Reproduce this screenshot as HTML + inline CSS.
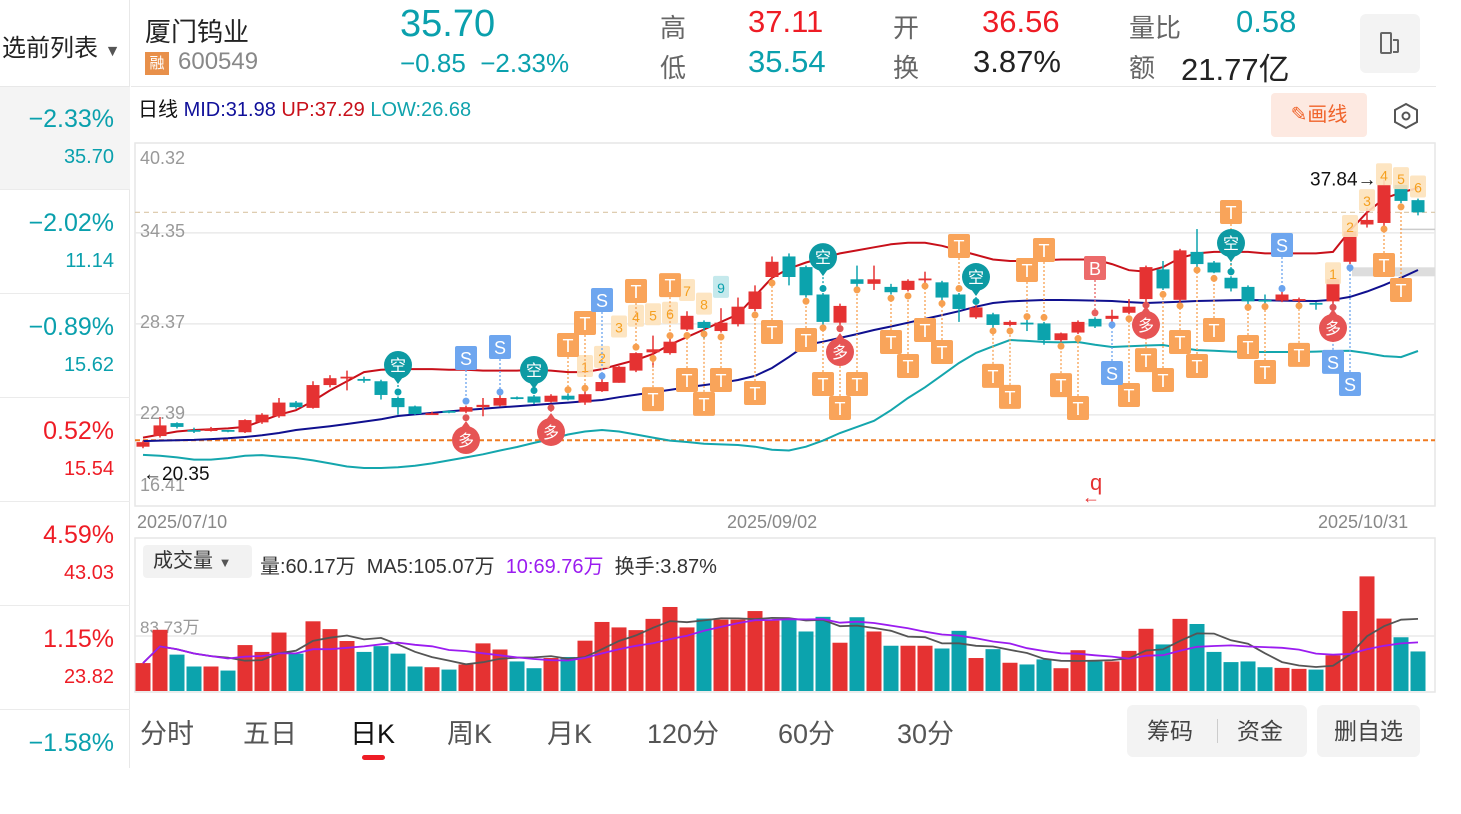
<!DOCTYPE html>
<html><head><meta charset="utf-8">
<style>
*{margin:0;padding:0;box-sizing:border-box}
body{width:1461px;height:768px;overflow:hidden;background:#fff;font-family:"Liberation Sans","Noto Sans CJK SC",sans-serif;position:relative}
.a{position:absolute;white-space:nowrap}
.teal{color:#0aa0ad}.red{color:#ee1c25}.gray{color:#666}
</style></head><body>
<!-- sidebar -->
<div class="a" style="left:0;top:0;width:130px;height:768px;border-right:1px solid #e8e8e8;overflow:hidden">
<div class="a" style="left:-22px;top:28px;font-size:24px;color:#222">自选前列表 <span style="font-size:16px;color:#555">▼</span></div>
</div>
<div class="a" style="left:0;top:86px;width:130px;height:1px;background:#e8e8e8"></div>
<div id="side"></div>
<!-- header -->
<div class="a" style="left:145px;top:12px;font-size:26px;color:#222">厦门钨业</div>
<div class="a" style="left:145px;top:52px;width:24px;height:23px;background:#e8904a;color:#fff;font-size:15px;text-align:center;line-height:23px">融</div>
<div class="a" style="left:178px;top:48px;font-size:24px;color:#888">600549</div>
<div class="a teal" style="left:400px;top:3px;font-size:38px">35.70</div>
<div class="a teal" style="left:400px;top:48px;font-size:26px">−0.85 &nbsp;−2.33%</div>
<div class="a gray" style="left:660px;top:8px;font-size:26px">高</div>
<div class="a red" style="left:748px;top:4px;font-size:31px">37.11</div>
<div class="a gray" style="left:660px;top:48px;font-size:26px">低</div>
<div class="a teal" style="left:748px;top:44px;font-size:31px">35.54</div>
<div class="a gray" style="left:893px;top:8px;font-size:26px">开</div>
<div class="a red" style="left:982px;top:4px;font-size:31px">36.56</div>
<div class="a gray" style="left:893px;top:48px;font-size:26px">换</div>
<div class="a" style="left:973px;top:44px;font-size:31px;color:#222">3.87%</div>
<div class="a gray" style="left:1129px;top:8px;font-size:26px">量比</div>
<div class="a teal" style="left:1236px;top:4px;font-size:31px">0.58</div>
<div class="a gray" style="left:1129px;top:48px;font-size:26px">额</div>
<div class="a" style="left:1181px;top:44px;font-size:31px;color:#222">21.77亿</div>
<div class="a" style="left:1360px;top:14px;width:60px;height:59px;background:#f3f3f3;border-radius:6px">
<div style="position:absolute;left:20px;top:18px;width:12px;height:22px;border:2px solid #666;border-radius:2px"></div>
<div style="position:absolute;left:33px;top:25px;width:6px;height:14px;border:2px solid #666;border-left:none;border-radius:0 2px 2px 0"></div></div>
<div class="a" style="left:131px;top:86px;width:1305px;height:1px;background:#e8e8e8"></div>
<div class="a" style="left:138px;top:93px;font-size:20px"><span style="color:#111">日线</span> <span style="color:#10109a">MID:31.98</span> <span style="color:#c8101a">UP:37.29</span> <span style="color:#11a3ad">LOW:26.68</span></div>
<div class="a" style="left:1271px;top:93px;width:96px;height:44px;background:#fde9e1;border-radius:4px;color:#f0632a;font-size:20px;line-height:44px;text-align:center">✎画线</div>
<svg class="a" style="left:1392px;top:102px" width="28" height="28"><polygon points="14,2 25,8 25,20 14,26 3,20 3,8" fill="none" stroke="#555" stroke-width="2"/><circle cx="14" cy="14" r="3.5" fill="none" stroke="#555" stroke-width="2"/></svg>

<svg id="chart" class="a" style="left:0;top:0" width="1461" height="768"></svg>

<!-- volume header -->
<div class="a" style="left:143px;top:545px;width:109px;height:33px;background:#f2f2f2;border-radius:4px;font-size:20px;line-height:33px;padding-left:10px;color:#333">成交量 <span style="font-size:13px;color:#555">▼</span></div>
<div class="a" style="left:260px;top:550px;font-size:20px;color:#333">量:60.17万 &nbsp;MA5:105.07万 &nbsp;<span style="color:#9b1cf0">10:69.76万</span> &nbsp;换手:3.87%</div>
<!-- tabs -->
<div id="tabs"></div>
<div class="a" style="left:362px;top:755px;width:23px;height:5px;background:#ee1c25;border-radius:3px"></div>
<div class="a" style="left:1127px;top:705px;width:180px;height:52px;background:#f3f3f3;border-radius:6px;font-size:23px;color:#444;line-height:52px"><span style="position:absolute;left:20px">筹码</span><span style="position:absolute;left:90px;top:14px;width:1px;height:24px;background:#ccc"></span><span style="position:absolute;left:110px">资金</span></div>
<div class="a" style="left:1317px;top:705px;width:103px;height:52px;background:#f3f3f3;border-radius:6px;font-size:23px;color:#444;line-height:52px;text-align:center">删自选</div>

<script>
// ---- data ----
const sidePct=["−2.33%","−2.02%","−0.89%","0.52%","4.59%","1.15%","−1.58%"];
const sidePrice=["35.70","11.14","15.62","15.54","43.03","23.82",""];
const tabs=["分时","五日","日K","周K","月K","120分","60分","30分"];
const priceTicks=[40.32,34.35,28.37,22.39,16.41];
const dateLabels=["2025/07/10","2025/09/02","2025/10/31"];
const O=[20.3,21.0,21.85,21.4,21.35,21.4,21.25,21.9,22.3,23.2,22.85,24.35,24.8,24.75,24.6,23.5,22.95,22.45,22.65,22.6,22.9,23.0,23.55,23.6,23.25,23.65,23.2,23.95,24.5,25.3,26.5,26.45,28.0,28.5,27.9,28.35,29.35,31.45,32.8,32.1,30.3,28.45,31.3,31.0,30.8,30.6,31.25,31.1,30.3,28.8,29.0,28.3,28.45,28.4,27.3,27.8,28.7,28.7,29.1,30.0,31.95,29.95,33.1,32.4,31.4,30.8,29.95,29.9,29.95,29.75,29.85,32.45,34.9,35.0,37.5,36.5];
const C=[20.6,21.7,21.6,21.35,21.45,21.3,22.05,22.4,23.2,22.9,24.35,24.8,24.9,24.65,23.7,22.9,22.45,22.5,22.55,22.9,23.05,23.5,23.5,23.2,23.65,23.4,23.75,24.55,25.55,26.45,26.7,27.2,28.9,28.1,28.45,29.5,30.5,32.45,31.45,30.25,28.5,29.55,31.0,31.3,30.45,31.2,31.35,30.1,29.35,29.45,28.3,28.5,28.4,27.3,27.75,28.5,28.2,28.9,29.5,32.1,30.7,33.2,32.3,31.75,30.7,29.85,29.9,30.3,30.0,29.7,31.3,34.45,35.2,37.5,36.45,35.7];
const H=[20.7,22.25,21.9,21.55,21.6,21.4,22.1,22.5,23.5,23.3,24.6,25.0,25.3,24.9,24.7,23.6,23.0,22.6,22.7,23.0,23.5,23.9,23.6,23.7,23.75,23.8,24.0,24.9,25.6,26.5,27.6,27.6,29.2,28.6,29.4,30.1,30.9,32.8,33.0,32.2,30.4,29.7,32.2,32.2,31.0,31.3,31.8,31.2,30.4,29.6,29.1,28.6,28.9,28.5,27.8,28.6,28.8,29.3,30.0,32.2,32.5,33.3,34.6,32.5,31.5,30.9,30.3,30.5,30.1,29.8,31.4,34.5,36.0,37.84,37.55,36.6];
const L=[20.2,20.9,21.5,21.2,21.3,21.25,21.2,21.8,22.2,22.8,22.8,24.2,24.0,24.5,23.4,22.4,22.4,22.4,22.5,22.5,22.3,22.95,23.4,23.1,23.2,23.35,23.05,23.9,24.5,25.2,25.5,26.35,27.9,27.4,27.8,28.2,29.2,31.3,30.9,30.1,28.2,28.3,30.7,30.6,30.3,30.5,30.8,29.9,28.5,28.7,28.1,28.2,27.9,27.0,27.2,27.7,28.1,28.5,29.0,29.8,30.6,29.8,31.9,31.7,30.5,29.6,29.3,29.8,29.5,29.3,29.6,32.3,34.7,34.8,36.3,35.5];
const UP=[20.9,21.1,21.3,21.4,21.45,21.5,21.6,22.0,22.4,22.7,23.3,24.0,24.6,25.2,25.35,25.4,25.4,25.4,25.35,25.35,25.3,25.3,25.3,25.35,25.3,25.2,25.2,25.4,25.7,26.0,26.4,27.0,27.5,28.0,28.5,29.0,30.2,31.4,32.0,32.4,32.7,33.0,33.2,33.4,33.6,33.7,33.7,33.5,33.2,32.9,32.6,32.5,32.5,32.55,32.6,32.6,32.6,32.3,31.9,31.8,32.1,32.7,33.0,33.1,33.1,33.1,33.0,33.0,33.0,33.0,33.1,34.5,35.7,36.6,37.0,37.3];
const MID=[20.67,20.7,20.72,20.75,20.8,20.85,20.94,21.05,21.2,21.4,21.52,21.65,21.79,21.95,22.1,22.32,22.42,22.52,22.62,22.71,22.8,22.88,22.96,23.04,23.12,23.2,23.28,23.37,23.55,23.72,23.88,24.03,24.2,24.35,24.5,24.68,24.95,25.47,26.2,26.98,27.2,27.45,27.7,27.97,28.2,28.45,28.7,28.95,29.2,29.5,29.74,29.85,29.9,29.94,29.94,29.92,29.9,29.87,29.8,29.74,29.78,29.82,29.87,29.9,29.92,29.94,29.92,29.9,29.88,29.87,29.95,30.14,30.5,30.92,31.4,31.91];
const LOW=[19.76,19.7,19.6,19.45,19.45,19.55,19.7,19.75,19.65,19.56,19.4,19.2,19.0,18.9,18.9,18.95,19.05,19.2,19.4,19.6,19.8,20.05,20.28,20.55,20.8,21.1,21.3,21.4,21.3,21.1,20.9,20.7,20.61,20.5,20.45,20.41,20.3,20.1,20.05,20.3,20.7,21.2,21.6,22.0,22.7,23.5,24.2,25.0,25.8,26.46,26.9,27.31,27.25,27.18,27.15,27.18,27.0,26.85,26.9,26.95,26.98,26.8,26.65,26.6,26.55,26.52,26.52,26.52,26.52,26.55,26.59,26.6,26.45,26.25,26.19,26.59];
const VOL=[42.5,93.2,55.4,37.3,37.3,31.1,69.9,59.5,89.0,56.9,106.1,94.2,76.1,59.5,68.3,56.9,37.3,36.2,32.6,40.4,72.5,63.2,45.0,34.7,50.2,51.8,76.6,105.1,96.8,92.7,109.8,127.9,96.8,110.3,108.7,108.7,121.7,107.2,108.7,90.6,112.9,73.5,112.3,90.6,68.9,68.9,68.9,64.7,91.6,50.2,63.7,43.0,40.4,48.1,34.7,62.1,45.0,45.0,61.1,94.7,70.9,109.8,102.0,59.5,44.0,45.0,36.2,35.2,33.7,32.6,54.4,121.7,174.5,110.3,81.8,60.2];
const volTick=83.73;
const closeLine=35.70, costLine=20.72, lastHigh=37.84, lastLow=20.35;
// markers: candle index (1-based), price, label
const mkT=[[26,26.98],[27,28.43],[30,30.53],[32,30.92],[31,23.43],[33,24.68],[34,23.11],[35,24.68],[38,27.84],[37,23.83],[40,27.31],[41,24.42],[42,22.84],[43,24.42],[45,27.18],[46,25.6],[47,27.97],[48,26.52],[49,33.49],[51,24.95],[52,23.57],[54,33.22],[53,31.91],[55,24.35],[56,22.84],[59,23.7],[60,25.99],[61,24.68],[62,27.18],[63,25.6],[64,27.97],[65,35.72],[66,26.85],[67,25.21],[69,26.33],[74,32.24],[75,30.6]];
const mkS=[[20,26.13],[22,26.85],[28,29.94],[58,25.14],[68,33.55],[71,25.87],[72,24.42]];
const mkKong=[[16,25.67],[24,25.34],[41,32.76],[50,31.45],[65,33.68]];
const mkDuo=[[20,20.74],[25,21.27],[42,26.52],[60,28.3],[71,28.1]];
const mkB=[[57,32.04]];
const mkNum=[[27,25.6,"1"],[28,26.2,"2"],[29,28.2,"3"],[30,28.9,"4"],[31,29.0,"5"],[32,29.1,"6"],[33,30.6,"7"],[34,29.7,"8"],[35,30.8,"9"],[71,31.7,"1"],[72,34.8,"2"],[73,36.5,"3"],[74,38.2,"4"],[75,37.95,"5"],[76,37.4,"6"]];

// ---- axes ----
const X0=143, DX=17;
const xOf=i=>X0+(i-1)*DX;
const yOf=p=>142+(40.32-p)*15.22;
const VB=691, vScale=55/volTick;
const yVol=v=>VB-v*vScale;
const NS="http://www.w3.org/2000/svg";
const svg=document.getElementById('chart');
function mk(tag,attrs,parent){const e=document.createElementNS(NS,tag);for(const k in attrs)e.setAttribute(k,attrs[k]);(parent||svg).appendChild(e);return e;}
function txt(s,attrs,parent){const e=mk('text',attrs,parent);e.textContent=s;return e;}

// sidebar
const side=document.getElementById('side');
sidePct.forEach((p,k)=>{
  const top=87+k*104;
  const d=document.createElement('div');
  d.className='a';
  
  
  const up=p.indexOf('−')<0;
  d.style.cssText=`left:0;top:${top}px;width:130px;height:103px;${k<6?'border-bottom:1px solid #ebebeb;':''}${k==0?'background:#f4f4f4;':''}`;
  d.innerHTML=`<div style="position:absolute;right:16px;top:18px;font-size:25px;color:${up?'#ee1c25':'#0aa0ad'}">${p}</div><div style="position:absolute;right:16px;top:59px;font-size:20px;color:${up?'#ee1c25':'#0aa0ad'}">${sidePrice[k]}</div>`;
  side.appendChild(d);
});
// tabs
const tabX=[140,243,350,447,547,647,778,897];
const tb=document.getElementById('tabs');
tabs.forEach((t,k)=>{const d=document.createElement('div');d.className='a';


d.style.cssText=`left:${tabX[k]}px;top:712px;font-size:27px;color:${k==2?'#111':'#555'}`;d.textContent=t;tb.appendChild(d);});

// plot frames
const pf=mk('rect',{x:135,y:143,width:1300,height:363,fill:'none',stroke:'#e6e6e6','stroke-width':1.5});


const vf=mk('rect',{x:135,y:538,width:1300,height:154,fill:'none',stroke:'#e6e6e6','stroke-width':1.5});


priceTicks.forEach((p,k)=>{
  const y=yOf(p);
  if(k>0&&k<4){const g=mk('line',{x1:135,x2:1435,y1:y,y2:y,stroke:'#eaeaea','stroke-width':1.5});
  }
  const by=k==0?164:(k==4?491:y+4);
  const t=txt(p.toFixed(2),{x:140,y:by,'font-size':18,fill:'#999'});
  
});
dateLabels.forEach((d,k)=>{const t=txt(d,{x:[137,727,1318][k],y:528,'font-size':18,fill:'#888'});
});
// ref lines
const cl=mk('line',{x1:135,x2:1435,y1:yOf(closeLine),y2:yOf(closeLine),stroke:'#d9c6a6','stroke-width':1.2,'stroke-dasharray':'5,4'});

const col=mk('line',{x1:135,x2:1435,y1:yOf(costLine),y2:yOf(costLine),stroke:'#f07a20','stroke-width':2,'stroke-dasharray':'5,3'});

mk('rect',{x:1352,y:yOf(closeLine)+55,width:83,height:9,fill:'#ddd'});
mk('line',{x1:1400,x2:1435,y1:yOf(closeLine)+17,y2:yOf(closeLine)+17,stroke:'#ccc','stroke-width':1.5});

// bands
function pathOf(arr){return arr.map((v,i)=>(i?'L':'M')+xOf(i+1)+','+yOf(v).toFixed(1)).join('');}
[[LOW,'#14a6ad','low-band-line'],[MID,'#10108f','mid-band-line'],[UP,'#c8101a','up-band-line']].forEach(([a,c,n])=>{
  const p=mk('path',{d:pathOf(a),fill:'none',stroke:c,'stroke-width':2});
  });

// candles
const RED='#e53232', TEAL='#0ca3ad';
O.forEach((o,k)=>{
  const i=k+1,x=xOf(i),c=C[k],col=c>=o?RED:TEAL;
  const g=mk('g',{});
  
  
  mk('line',{x1:x,x2:x,y1:yOf(H[k]),y2:yOf(L[k]),stroke:col,'stroke-width':1.5},g);
  const yt=yOf(Math.max(o,c)),yb=yOf(Math.min(o,c));
  mk('rect',{x:x-6.5,y:yt,width:13,height:Math.max(yb-yt,1.8),fill:col},g);
});

// markers
function connector(i,p,col){const x=xOf(i);const cy=yOf((O[i-1]+C[i-1])/2);const my=yOf(p);
  const dir=my<cy?1:-1;const end=dir>0?yOf(Math.max(O[i-1],C[i-1]))-6:yOf(Math.min(O[i-1],C[i-1]))+6;
  mk('line',{x1:x,x2:x,y1:my+dir*12,y2:end,stroke:col,'stroke-width':1.3,'stroke-dasharray':'2,2'});
  mk('circle',{cx:x,cy:end,r:3.5,fill:col});}
mkNum.forEach(([i,p,s])=>{const x=xOf(i),y=yOf(p);const teal=s=='9'&&i<50;
  const g=mk('g',{});
  mk('rect',{x:x-8,y:y-11,width:16,height:22,rx:2,fill:teal?'#bfe7ea':'#fde2bb',opacity:0.9},g);
  txt(s,{x:x,y:y+6,'font-size':14,'text-anchor':'middle',fill:teal?'#0aa0ad':'#f5a020'},g);});
mkT.forEach(([i,p])=>{connector(i,p,'#f7a050');const x=xOf(i),y=yOf(p);
  const g=mk('g',{});
  mk('rect',{x:x-11,y:y-12,width:22,height:24,rx:2,fill:'#f9a45a'},g);
  txt('T',{x:x,y:y+7,'font-size':18,'text-anchor':'middle',fill:'#fff'},g);});
mkS.forEach(([i,p])=>{connector(i,p,'#6aa3ee');const x=xOf(i),y=yOf(p);
  const g=mk('g',{});
  mk('rect',{x:x-11,y:y-12,width:22,height:24,rx:2,fill:'#6ea6ef'},g);
  txt('S',{x:x,y:y+7,'font-size':18,'text-anchor':'middle',fill:'#fff'},g);});
mkB.forEach(([i,p])=>{connector(i,p,'#e86060');const x=xOf(i),y=yOf(p);
  const g=mk('g',{});
  mk('rect',{x:x-11,y:y-12,width:22,height:24,rx:2,fill:'#ec6b6b'},g);
  txt('B',{x:x,y:y+7,'font-size':18,'text-anchor':'middle',fill:'#fff'},g);});
mkKong.forEach(([i,p])=>{connector(i,p,'#0aa0ad');const x=xOf(i),y=yOf(p);
  const g=mk('g',{});
  mk('circle',{cx:x,cy:y,r:14,fill:'#0d9aa3'},g);mk('polygon',{points:`${x-5},${y+12} ${x+5},${y+12} ${x},${y+19}`,fill:'#0d9aa3'},g);
  txt('空',{x:x,y:y+6,'font-size':16,'text-anchor':'middle',fill:'#fff'},g);});
mkDuo.forEach(([i,p])=>{connector(i,p,'#e05555');const x=xOf(i),y=yOf(p);
  const g=mk('g',{});
  mk('circle',{cx:x,cy:y,r:14,fill:'#e65454'},g);mk('polygon',{points:`${x-5},${y-12} ${x+5},${y-12} ${x},${y-19}`,fill:'#e65454'},g);
  txt('多',{x:x,y:y+6,'font-size':16,'text-anchor':'middle',fill:'#fff'},g);});

// annotations
const hi=txt('37.84→',{x:1310,y:yOf(lastHigh)+6,'font-size':19,fill:'#111'});

const lo=txt('←20.35',{x:143,y:480,'font-size':19,fill:'#111'});

txt('q',{x:1090,y:490,'font-size':22,fill:'#e53232'});
txt('←',{x:1082,y:503,'font-size':18,fill:'#e53232'});

// volume
const vg=mk('line',{x1:135,x2:1435,y1:yVol(volTick),y2:yVol(volTick),stroke:'#eaeaea','stroke-width':1.5});

const vt=txt(volTick+'万',{x:140,y:yVol(volTick)-3,'font-size':17,fill:'#999'});

VOL.forEach((v,k)=>{const x=xOf(k+1);const col=C[k]>=O[k]?RED:TEAL;
  const r=mk('rect',{x:x-7.5,y:yVol(v),width:15,height:VB-yVol(v),fill:col});
  });
function ma(n){return VOL.map((v,k)=>{const s=VOL.slice(Math.max(0,k-n+1),k+1);return s.reduce((a,b)=>a+b,0)/s.length;});}
[[ma(5),'#555','volume-ma5-line'],[ma(10),'#9b1cf0','volume-ma10-line']].forEach(([a,c,n])=>{
  const p=mk('path',{d:a.map((v,k)=>(k?'L':'M')+xOf(k+1)+','+yVol(v).toFixed(1)).join(''),fill:'none',stroke:c,'stroke-width':1.8});
  });
</script>
</body></html>
